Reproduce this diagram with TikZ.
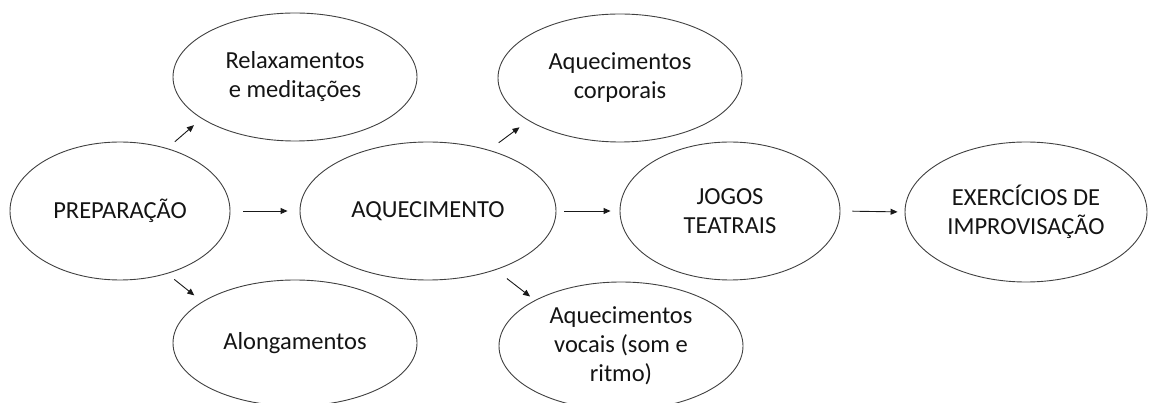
\documentclass[tikz,border=0pt]{standalone}
\usepackage{fontspec}
\setmainfont{Carlito}
\usetikzlibrary{shapes.geometric,arrows.meta}
\begin{document}
\begin{tikzpicture}[x=1pt,y=-1pt,
  oval/.style={ellipse, draw=black!75, line width=0.9pt, inner sep=0pt, align=center,
    font=\fontsize{24.5}{29}\selectfont, text=black!92},
  arr/.style={-{Triangle[length=7pt,width=6pt]}, line width=0.9pt, draw=black!90}]
\useasboundingbox (0,0) rectangle (1149,403);
\clip (0,0) rectangle (1149,403);
\node[oval, minimum width=220pt, minimum height=138pt] (prep) at (120,211) {PREPARAÇÃO};
\node[oval, minimum width=244pt, minimum height=128pt] (relax) at (295,77) {Relaxamentos\\e meditações};
\node[oval, minimum width=244pt, minimum height=126pt] (along) at (295,343) {Alongamentos};
\node[oval, minimum width=256pt, minimum height=138pt] (aq) at (428,211) {AQUECIMENTO};
\node[oval, minimum width=244pt, minimum height=128pt] (corp) at (620,78) {Aquecimentos\\corporais};
\node[oval, minimum width=220pt, minimum height=138pt] (jogos) at (730,211) {JOGOS\\TEATRAIS};
\node[oval, minimum width=244pt, minimum height=128pt] (voc) at (621,346) {Aquecimentos\\vocais (som e\\ritmo)};
\node[oval, minimum width=242pt, minimum height=140pt] (exer) at (1026,212) {EXERCÍCIOS DE\\IMPROVISAÇÃO};
\draw[arr, shorten <=13pt, shorten >=12pt] (prep.east) -- (aq.west);
\draw[arr, shorten <=10pt, shorten >=10pt] (prep.53) -- (relax.204);
\draw[arr, shorten <=9pt, shorten >=10pt] (prep.-53) -- (along.156);
\draw[arr, shorten <=12pt, shorten >=11pt] (aq.45) -- (corp.205);
\draw[arr, shorten <=14pt, shorten >=6pt] (aq.-41) -- (voc.152);
\draw[arr, shorten <=8pt, shorten >=9pt] (aq.east) -- (jogos.west);
\draw[arr, shorten <=12pt, shorten >=7pt] (jogos.east) -- (exer.west);
\end{tikzpicture}
\end{document}
